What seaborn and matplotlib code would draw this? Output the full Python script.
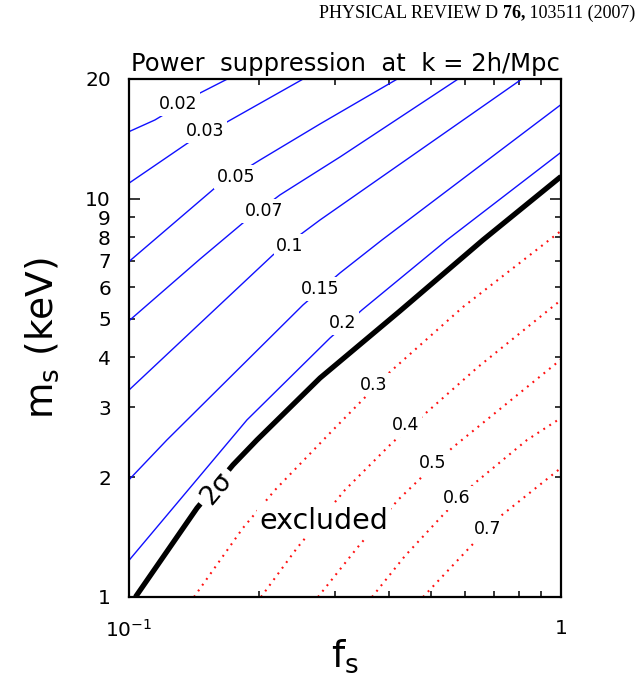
import matplotlib
matplotlib.use("Agg")
import matplotlib.pyplot as plt
import numpy as np
import pandas as pd
import seaborn as sns
from matplotlib.ticker import FixedLocator, FixedFormatter, NullFormatter

# ---------------- data (f_s, m_s [keV]) ----------------
f_002 = [0.100, 0.1148, 0.1461, 0.169]
m_002 = [14.75, 15.78, 18.45, 20.0]
f_003 = [0.100, 0.1369, 0.1686, 0.253]
m_003 = [10.95, 13.82, 15.60, 20.0]
f_005 = [0.100, 0.1581, 0.2010, 0.2768, 0.418]
m_005 = [6.96, 10.65, 12.52, 15.42, 20.0]
f_007 = [0.100, 0.1461, 0.1836, 0.2236, 0.3079, 0.578]
m_007 = [4.94, 7.064, 8.70, 10.23, 12.74, 20.0]
f_010 = [0.100, 0.2154, 0.2768, 0.812]
m_010 = [3.31, 7.229, 8.85, 20.0]
f_015 = [0.100, 0.1224, 0.2528, 0.3079, 0.3851, 1.0]
m_015 = [1.97, 2.48, 5.414, 6.515, 7.884, 17.25]
f_020 = [0.100, 0.1875, 0.2920, 0.3462, 0.5446, 1.0]
m_020 = [1.236, 2.784, 4.473, 5.26, 7.884, 13.09]
f_2sig = [0.1035, 0.1437, 0.1740, 0.1978, 0.2768, 0.4240, 0.6598, 1.0]
m_2sig = [1.0, 1.673, 2.146, 2.480, 3.548, 5.23, 7.884, 11.38]
f_030 = [0.1414, 0.1836, 0.2178, 0.2920, 0.4019, 0.5930, 1.0]
m_030 = [1.0, 1.491, 1.857, 2.582, 3.675, 5.35, 8.31]
f_040 = [0.2021, 0.2448, 0.3162, 0.4062, 0.6426, 1.0]
m_040 = [1.0, 1.327, 1.857, 2.437, 3.782, 5.57]
f_050 = [0.2738, 0.3371, 0.4194, 0.5594, 1.0]
m_050 = [1.0, 1.327, 1.753, 2.367, 3.95]
f_060 = [0.3652, 0.4353, 0.5331, 0.6323, 0.8343, 1.0]
m_060 = [1.0, 1.268, 1.607, 1.934, 2.480, 2.816]
f_070 = [0.4793, 0.6223, 0.7302, 1.0]
m_070 = [1.0, 1.351, 1.607, 2.11]

blue_levels = ["0.02", "0.03", "0.05", "0.07", "0.1", "0.15", "0.2"]
red_levels = ["0.3", "0.4", "0.5", "0.6", "0.7"]

y_major = [1, 10]
y_major_labels = ["1", "10"]
y_minor = [2, 3, 4, 5, 6, 7, 8, 9, 20]
y_minor_labels = ["2", "3", "4", "5", "6", "7", "8", "9", "20"]
x_major = [0.1, 1.0]
x_major_labels = [r"$10^{-1}$", "1"]
x_minor = [0.2, 0.3, 0.4, 0.5, 0.6, 0.7, 0.8, 0.9]

# ---------------- style ----------------
sns.set_style("ticks")
plt.rcParams["font.family"] = ["DejaVu Sans"]
plt.rcParams["mathtext.fontset"] = "dejavusans"
for k in ["text.color", "axes.labelcolor", "xtick.color", "ytick.color",
          "axes.edgecolor", "xtick.labelcolor", "ytick.labelcolor"]:
    plt.rcParams[k] = "black"

fig = plt.figure(figsize=(6.37, 6.75), dpi=100)
ax = fig.add_axes([129 / 637, 1 - 597 / 675, 432 / 637, 518 / 675])
ax.set_xscale("log")
ax.set_yscale("log")

blue_sets = [(f_002, m_002), (f_003, m_003), (f_005, m_005), (f_007, m_007),
             (f_010, m_010), (f_015, m_015), (f_020, m_020)]
red_sets = [(f_030, m_030), (f_040, m_040), (f_050, m_050), (f_060, m_060), (f_070, m_070)]

for (fx, my) in blue_sets:
    sns.lineplot(x=fx, y=my, ax=ax, color="#1010ff", linewidth=1.0,
                 estimator=None, sort=False)
for (fx, my) in red_sets:
    sns.lineplot(x=fx, y=my, ax=ax, color="#ff1010", linewidth=1.5,
                 linestyle=(0, (0.9, 2.5)), estimator=None, sort=False)
sns.lineplot(x=f_2sig, y=m_2sig, ax=ax, color="black", linewidth=3.8,
             estimator=None, sort=False, solid_capstyle="butt", solid_joinstyle="round")

ax.set_xlim(0.1, 1.0)
ax.set_ylim(1.0, 20.0)

# contour labels (white boxes break the lines like inline contour labels)
box = dict(boxstyle="square,pad=0.15", fc="white", ec="none")
blue_pos = [(0.1298, 17.31), (0.1499, 14.81), (0.1768, 11.35), (0.2054, 9.324),
            (0.2359, 7.616), (0.2768, 5.938), (0.3129, 4.88)]
red_pos = [(0.3691, 3.41), (0.4377, 2.705), (0.5055, 2.171), (0.5743, 1.773), (0.6776, 1.482)]
for lab, (x, y) in zip(blue_levels + red_levels, blue_pos + red_pos):
    ax.text(x, y, lab, ha="center", va="center", fontsize=12.5, bbox=box, zorder=5)

ax.text(0.1598, 1.868, "2σ", ha="center", va="center", fontsize=19, rotation=50,
        rotation_mode="anchor", bbox=dict(boxstyle="square,pad=0.2", fc="white", ec="none"),
        zorder=5)
ax.text(0.2828, 1.482, "excluded", ha="center", va="baseline", fontsize=20.5,
        bbox=dict(boxstyle="square,pad=0.1", fc="white", ec="none"), zorder=5)

# ticks
ax.xaxis.set_major_locator(FixedLocator(x_major))
ax.xaxis.set_major_formatter(FixedFormatter(x_major_labels))
ax.xaxis.set_minor_locator(FixedLocator(x_minor))
ax.xaxis.set_minor_formatter(NullFormatter())
ax.yaxis.set_major_locator(FixedLocator(y_major))
ax.yaxis.set_major_formatter(FixedFormatter(y_major_labels))
ax.yaxis.set_minor_locator(FixedLocator(y_minor))
ax.yaxis.set_minor_formatter(FixedFormatter(y_minor_labels))

ax.tick_params(which="both", direction="in", top=True, right=True, colors="black",
               labelcolor="black", labelsize=14.5, width=1.1)
ax.tick_params(which="major", length=8)
ax.tick_params(which="minor", length=4.5)
ax.tick_params(axis="y", which="both", pad=13)
ax.tick_params(axis="x", which="both", pad=16)
for sp in ax.spines.values():
    sp.set_linewidth(1.6)
    sp.set_color("black")

ax.set_xlabel(r"f$_\mathrm{s}$", fontsize=27, color="black")
ax.set_ylabel(r"m$_\mathrm{s}$ (keV)", fontsize=27, color="black")
ax.xaxis.set_label_coords(0.5, -0.078)
ax.yaxis.set_label_coords(-0.158, 0.5)
ax.set_title("Power  suppression  at  k = 2h/Mpc", fontsize=17.5, pad=6, color="black")

# journal header
fig.canvas.draw()
r = fig.canvas.get_renderer()
yh = 1 - 13 / 675
hs = 13
t3 = fig.text(0.998, yh, " 103511 (2007)", ha="right", va="center",
              family="Liberation Serif", fontsize=hs, color="black")
bb = t3.get_window_extent(r)
t2 = fig.text(bb.x0 / fig.bbox.width, yh, "76,", ha="right", va="center",
              family="Liberation Serif", fontsize=hs, fontweight="bold", color="black")
bb = t2.get_window_extent(r)
fig.text(bb.x0 / fig.bbox.width, yh, "PHYSICAL REVIEW D ", ha="right", va="center",
         family="Liberation Serif", fontsize=hs, color="black")

fig.savefig("out.png", dpi=100)
